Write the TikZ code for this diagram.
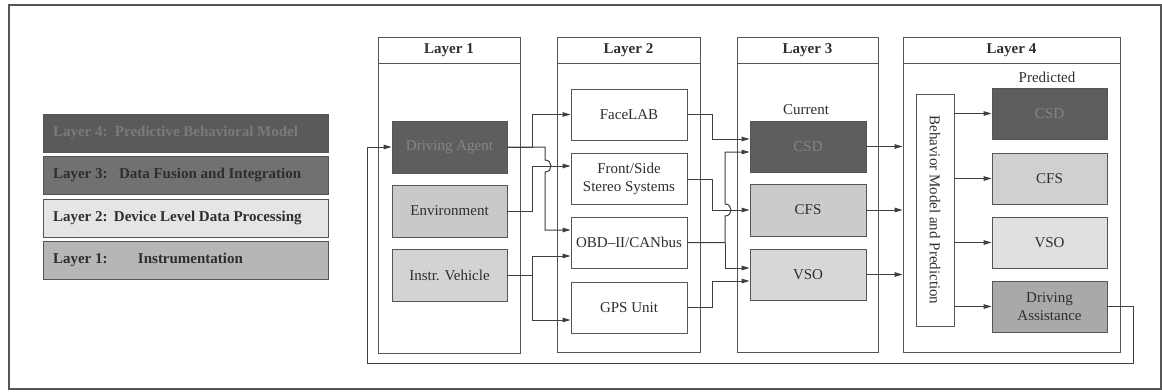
\documentclass[tikz,border=0pt]{standalone}
\usepackage{fontspec}
\setmainfont{Liberation Serif}
\usetikzlibrary{arrows.meta,calc}

\definecolor{lncol}{HTML}{3F3F3F}
\definecolor{boxline}{HTML}{555555}
\definecolor{txt}{HTML}{2E2E2E}
\definecolor{darkfill}{HTML}{5E5E5E}
\definecolor{darktxt}{HTML}{858585}
\definecolor{envfill}{HTML}{C9C9C9}
\definecolor{ivfill}{HTML}{D3D3D3}
\definecolor{cfsfill}{HTML}{CBCBCB}
\definecolor{vsofill}{HTML}{D7D7D7}
\definecolor{pcfsfill}{HTML}{D0D0D0}
\definecolor{pvsofill}{HTML}{E0E0E0}
\definecolor{dasfill}{HTML}{A9A9A9}
\definecolor{gfour}{HTML}{5A5A5A}
\definecolor{gfourtxt}{HTML}{7A7A7A}
\definecolor{gthree}{HTML}{717171}
\definecolor{gtwo}{HTML}{E5E5E5}
\definecolor{gone}{HTML}{B6B6B6}

\begin{document}
\begin{tikzpicture}[x=1pt,y=-1pt,
  font=\fontsize{15}{18}\selectfont,
  box/.style={draw=boxline, line width=0.8pt, minimum width=115pt, minimum height=51pt,
    inner sep=0pt, align=center, text=txt},
  panel/.style={draw=boxline, line width=0.8pt, inner sep=0pt},
  hdr/.style={font=\fontsize{15}{18}\selectfont\bfseries, text=txt, inner sep=0pt},
  leg/.style={draw=boxline, line width=0.7pt, minimum width=285pt, minimum height=38pt,
    inner sep=0pt, font=\fontsize{15}{18}\selectfont\bfseries},
  conn/.style={draw=lncol, line width=1pt},
  arr/.style={conn, -{Triangle[length=8pt,width=4.5pt]}},
  note/.style={text=txt, inner sep=0pt}
]
\useasboundingbox (0,0) rectangle (1162,391);
\draw[draw=boxline, line width=1.2pt] (9,5) rectangle (1161,389);

% legend
\node[leg, fill=gfour, text=gfourtxt] (G4) at (185.5,133)
  {\makebox[285pt][l]{\hspace{10pt}\makebox[62pt][l]{Layer 4:}Predictive Behavioral Model}};
\node[leg, fill=gthree, text=txt] (G3) at (185.5,175)
  {\makebox[285pt][l]{\hspace{10pt}\makebox[66pt][l]{Layer 3:}Data Fusion and Integration}};
\node[leg, fill=gtwo, text=txt] (G2) at (185.5,218)
  {\makebox[285pt][l]{\hspace{10pt}\makebox[61pt][l]{Layer 2:}Device Level Data Processing}};
\node[leg, fill=gone, text=txt] (G1) at (185.5,260)
  {\makebox[285pt][l]{\hspace{10pt}\makebox[85pt][l]{Layer 1:}Instrumentation}};

% layer panels with header rows
\node[panel, minimum width=142pt, minimum height=316pt] (P1) at (449,195) {};
\node[panel, minimum width=143pt, minimum height=315pt] (P2) at (628.5,194.5) {};
\node[panel, minimum width=141pt, minimum height=315pt] (P3) at (807.5,194.5) {};
\node[panel, minimum width=217pt, minimum height=315pt] (P4) at (1011.5,194.5) {};
\foreach \p in {P1,P2,P3,P4}
  \draw[draw=boxline, line width=0.8pt] (\p.west |- 0,63) -- (\p.east |- 0,63);
\node[hdr] (H1) at (449,50) {Layer 1};
\node[hdr] (H2) at (628.5,50) {Layer 2};
\node[hdr] (H3) at (807.5,50) {Layer 3};
\node[hdr] (H4) at (1011.5,50) {Layer 4};

% layer 1
\node[box, fill=darkfill, text=darktxt, minimum height=52pt] (DA) at (449.5,147) {Driving Agent};
\node[box, fill=envfill, minimum height=52pt] (ENV) at (449.5,211) {Environment};
\node[box, fill=ivfill, minimum height=52pt] (IV) at (449.5,275) {Instr. Vehicle};

% layer 2
\node[box, fill=white, minimum width=116pt] (FL) at (629,114.5) {FaceLAB};
\node[box, fill=white, minimum width=116pt] (FS) at (629,178.5) {Front/Side\\Stereo Systems};
\node[box, fill=white, minimum width=116pt] (OBD) at (629,242.5) {OBD\textendash II/CANbus};
\node[box, fill=white, minimum width=116pt] (GPS) at (629,307.5) {GPS Unit};

% layer 3
\node[note] (CUR) at (806,110) {Current};
\node[box, fill=darkfill, text=darktxt, minimum width=116pt] (CSD) at (808,146.5) {CSD};
\node[box, fill=cfsfill, minimum width=116pt, minimum height=52pt] (CFS) at (808,210) {CFS};
\node[box, fill=vsofill, minimum width=116pt] (VSO) at (808,274.5) {VSO};

% layer 4
\node[note] (PRE) at (1047,77) {Predicted};
\node[box, fill=white, minimum width=38pt, minimum height=232pt] (BM) at (935,210) {};
\node[note, rotate=-90] (BMT) at (BM.center) {Behavior Model and Prediction};
\node[box, fill=darkfill, text=darktxt] (PCSD) at (1049.5,113.5) {CSD};
\node[box, fill=pcfsfill] (PCFS) at (1049.5,178.5) {CFS};
\node[box, fill=pvsofill] (PVSO) at (1049.5,242.5) {VSO};
\node[box, fill=dasfill] (DAS) at (1049.5,306.5) {Driving\\Assistance};

% routing columns and entry points
\coordinate (b1) at (532,0);
\coordinate (b2) at (545,0);
\coordinate (b3) at (712,0);
\coordinate (b4) at (725,0);
\coordinate (fsin) at ([yshift=12.5pt]FS.west);
\coordinate (obdin1) at ([yshift=12.5pt]OBD.west);
\coordinate (obdin2) at ([yshift=-13.5pt]OBD.west);
\coordinate (gpsin) at ([yshift=-12.5pt]GPS.west);
\coordinate (csdin1) at ([yshift=7.5pt]CSD.west);
\coordinate (csdin2) at ([yshift=-5.5pt]CSD.west);
\coordinate (vsoin1) at ([yshift=6.5pt]VSO.west);
\coordinate (vsoin2) at ([yshift=-6.5pt]VSO.west);
\coordinate (fbR) at (1133,363);
\coordinate (fbL) at (367,363);

% layer 1 -> layer 2
\draw[arr] (DA.east) -- (DA.east -| b1) |- (FL.west);
\draw[arr] (DA.east) -- (DA.east -| b2) -- ($(fsin -| b2)+(0,-6)$)
  .. controls +(8,0) and +(8,0) .. ($(fsin -| b2)+(0,6)$) -- (obdin1 -| b2) -- (obdin1);
\draw[arr] (ENV.east) -- (ENV.east -| b1) |- (fsin);
\draw[arr] (IV.east) -- (IV.east -| b1) |- (obdin2);
\draw[arr] (IV.east -| b1) |- (gpsin);

% layer 2 -> layer 3
\draw[arr] (FL.east) -- (FL.east -| b3) |- (csdin1);
\draw[arr] ([yshift=-0.5pt]FS.east) -- ([yshift=-0.5pt]FS.east -| b3) |- (CFS.west);
\draw[arr] (OBD.east) -- (OBD.east -| b4) -- ($(CFS.west -| b4)+(0,6)$)
  .. controls +(8,0) and +(8,0) .. ($(CFS.west -| b4)+(0,-6)$) -- (csdin2 -| b4) -- (csdin2);
\draw[arr] (OBD.east -| b4) |- (vsoin1);
\draw[arr] (GPS.east) -- (GPS.east -| b3) |- (vsoin2);

% layer 3 -> layer 4
\draw[arr] (CSD.east) -- (CSD.east -| P4.west);
\draw[arr] (CFS.east) -- (CFS.east -| P4.west);
\draw[arr] (VSO.east) -- (VSO.east -| P4.west);

% behaviour model -> predictions
\draw[arr] (BM.east |- PCSD.west) -- (PCSD.west);
\draw[arr] (BM.east |- PCFS.west) -- (PCFS.west);
\draw[arr] (BM.east |- PVSO.west) -- (PVSO.west);
\draw[arr] (BM.east |- DAS.west) -- (DAS.west);

% feedback loop to the driver
\draw[arr] (DAS.east) -| (fbR) -- (fbL) |- (DA.west);
\end{tikzpicture}
\end{document}
